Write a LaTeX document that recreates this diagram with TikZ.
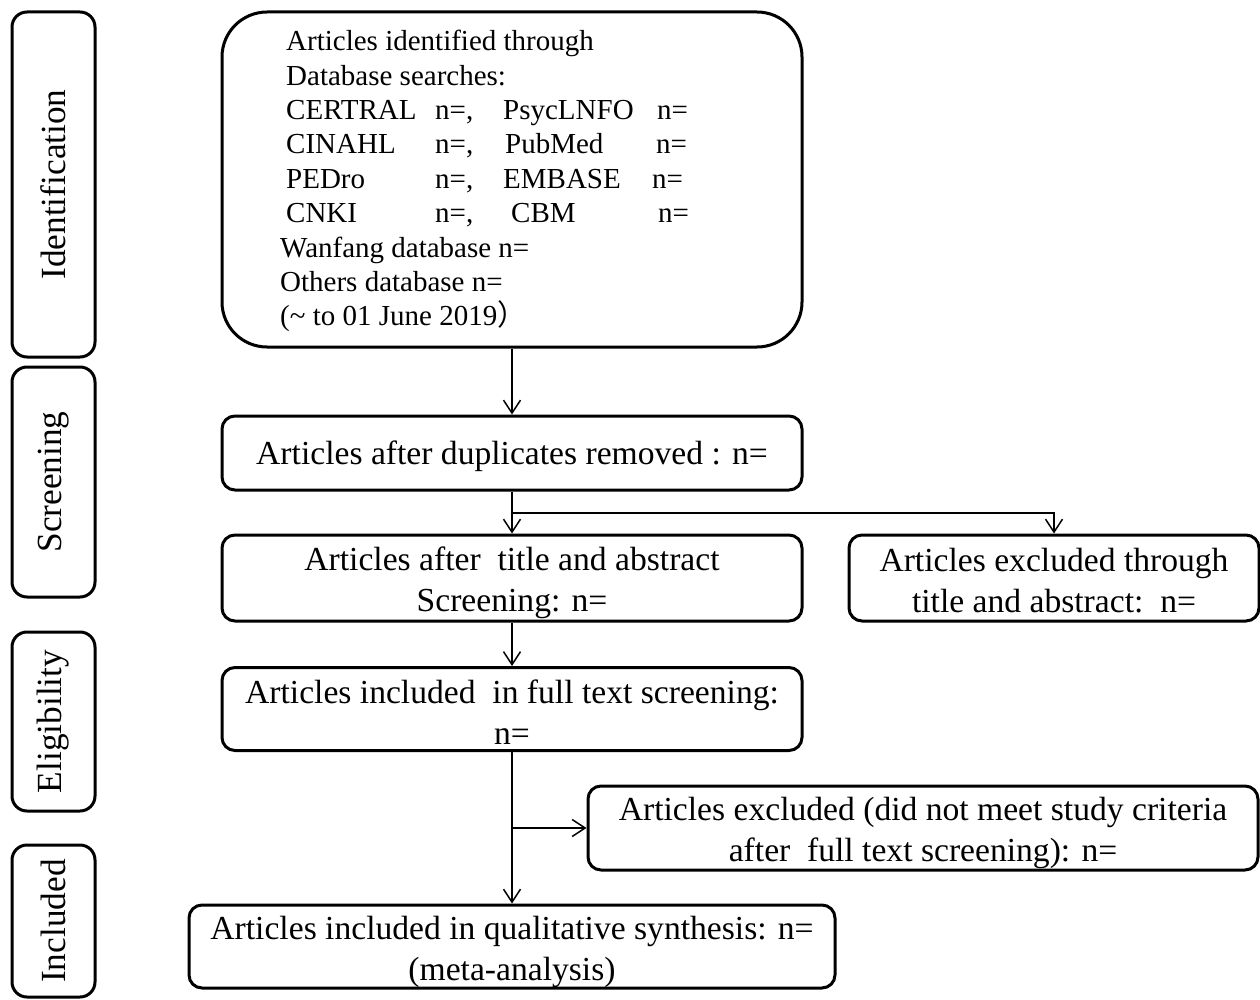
\documentclass[tikz,border=0pt]{standalone}
\usepackage{fontspec}
\setmainfont{Liberation Serif}
\newfontfamily\cjk{Noto Sans CJK SC}
\usetikzlibrary{arrows.meta}
\newcommand{\upstrut}[1]{\rule{0pt}{#1pt}}
\begin{document}
\begin{tikzpicture}[x=1pt,y=-1pt,
  box/.style={draw, line width=3pt, rounded corners=13pt, align=center,
    font=\fontsize{33.6}{41}\selectfont, inner sep=0pt},
  phase/.style={draw, line width=3pt, rounded corners=15pt, rotate=90,
    minimum height=83pt, inner sep=0pt, font=\fontsize{35.3}{40}\selectfont},
  arr/.style={line width=1.5pt, -{Straight Barb[length=13pt,width=17pt,line width=1.5pt]}},
  idtxt/.style={anchor=north west, inner sep=0pt, align=left,
    font=\fontsize{29}{34.4}\selectfont}]
\useasboundingbox (0,0) rectangle (1260,1000);

% phase labels
\node[phase, minimum width=345pt] (pid) at (53.5,184.5) {Identification};
\node[phase, minimum width=230pt] (pscr) at (53.5,482) {Screening};
\node[phase, minimum width=179pt] (pel) at (53.5,721.5) {Eligibility};
\node[phase, minimum width=152pt] (pinc) at (53.5,921) {Included};

% identification box
\node[box, rounded corners=45pt, minimum width=580pt, minimum height=335pt] (idbox) at (512,179.5) {};
\node[idtxt] (idtext) at (286,30) {%
Articles identified through\\
Database searches:\\
\makebox[149pt][l]{CERTRAL}\makebox[68pt][l]{n=,}\makebox[154pt][l]{PsycLNFO}n=\\
\makebox[149pt][l]{CINAHL}\makebox[70pt][l]{n=,}\makebox[151pt][l]{PubMed}n=\\
\makebox[149pt][l]{PEDro}\makebox[68pt][l]{n=,}\makebox[149pt][l]{EMBASE}n=\\
\makebox[149pt][l]{CNKI}\makebox[76pt][l]{n=,}\makebox[147pt][l]{CBM}n=\\
\hspace*{-6pt}Wanfang database n=\\
\hspace*{-6pt}Others database n=\\
\hspace*{-6pt}(\textasciitilde{} to 01 June 2019{\cjk ）}};

% flow boxes
\node[box, minimum width=580pt, minimum height=74pt] (dup) at (512,453) {\upstrut{31}Articles after duplicates removed : n=};
\node[box, minimum width=580pt, minimum height=86pt] (ta) at (512,578) {\upstrut{33}Articles after\ \ title and abstract\\Screening: n=};
\node[box, minimum width=410pt, minimum height=86pt] (exta) at (1054,578) {\upstrut{29}Articles excluded through\\title and abstract:\ \ n=};
\node[box, minimum width=580pt, minimum height=83pt] (ft) at (512,709) {\upstrut{29}Articles included\ \ in full text screening:\\n=};
\node[box, minimum width=670pt, minimum height=84pt] (exft) at (923,828) {\upstrut{33}Articles excluded (did not meet study criteria\\after\ \ full text screening): n=};
\node[box, minimum width=646pt, minimum height=83pt] (qual) at (512,946.5) {\upstrut{34}Articles included in qualitative synthesis: n=\\(meta-analysis)};

% connectors
\coordinate (b1) at (512,513);
\coordinate (b2) at (512,828);
\draw[arr] (idbox.south) -- (dup.north);
\draw[arr] (dup.south) -- (ta.north);
\draw[arr] (b1) -| (exta.north);
\draw[arr] (ta.south) -- (ft.north);
\draw[arr] (ft.south) -- (qual.north);
\draw[arr] (b2) -- (exft.west);
\end{tikzpicture}
\end{document}
